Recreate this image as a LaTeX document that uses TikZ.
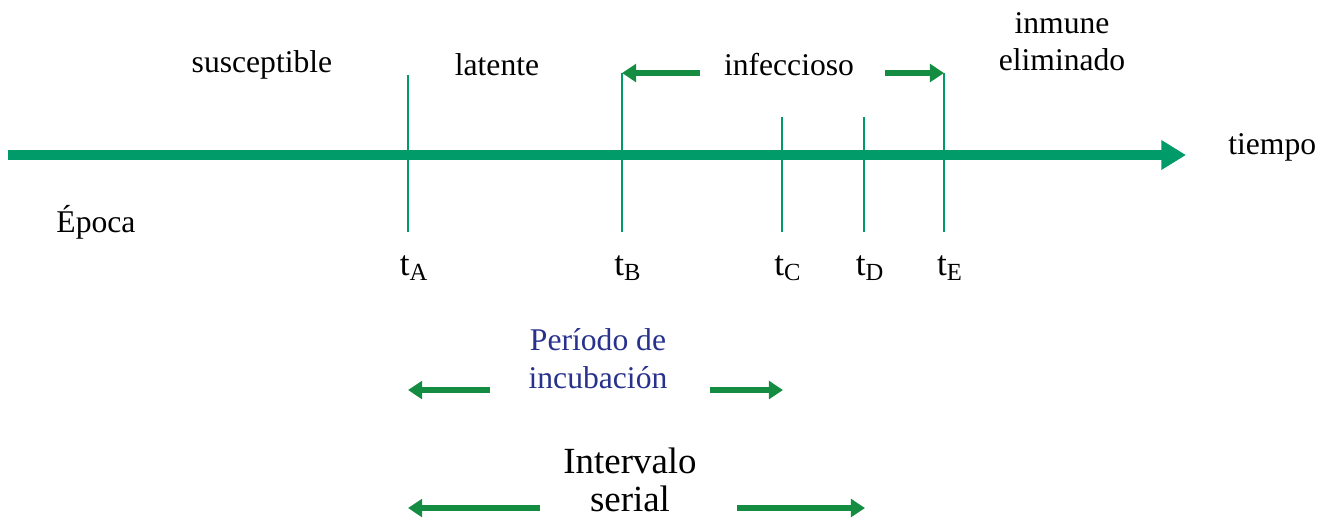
\documentclass[tikz,border=0pt]{standalone}
\usepackage{xcolor}
\usepackage{fontspec}
\setmainfont{Liberation Serif}
\usetikzlibrary{arrows.meta}

\definecolor{axisgreen}{RGB}{0,155,105}
\definecolor{arrowgreen}{RGB}{20,140,65}
\definecolor{textblue}{RGB}{40,50,140}

\begin{document}
\begin{tikzpicture}[
    x=0.02cm, y=-0.02cm,
    axis/.style={-{Triangle[length=14pt,width=16pt]}, line width=5.7pt, axisgreen},
    tick/.style={line width=1.1pt, axisgreen},
    span/.style={-{Triangle[length=8pt,width=10pt]}, line width=3.4pt, arrowgreen},
    label/.style={font=\fontsize{18}{21}\selectfont, inner sep=0pt, align=center},
    tlabel/.style={font=\fontsize{20}{22}\selectfont, inner sep=0pt}
]
\useasboundingbox (0,0) rectangle (1325,522);

% eje del tiempo
\coordinate (start) at (8,155);
\coordinate (end) at (1186,155);
\draw[axis] (start) -- (end);
\node[label, anchor=west] (tiempo) at (1228,147) {tiempo};
\node[label] (epoca) at (96,222) {Época};

% marcas
\coordinate (Atop) at (408,75);  \coordinate (Abot) at (408,232);
\coordinate (Btop) at (622,73);  \coordinate (Bbot) at (622,232);
\coordinate (Ctop) at (782,117); \coordinate (Cbot) at (782,232);
\coordinate (Dtop) at (864,117); \coordinate (Dbot) at (864,232);
\coordinate (Etop) at (944,73);  \coordinate (Ebot) at (944,232);
\draw[tick] (Atop) -- (Abot);
\draw[tick] (Btop) -- (Bbot);
\draw[tick] (Ctop) -- (Cbot);
\draw[tick] (Dtop) -- (Dbot);
\draw[tick] (Etop) -- (Ebot);

\node[tlabel] (tA) at (414,268) {t\textsubscript{A}};
\node[tlabel] (tB) at (628,268) {t\textsubscript{B}};
\node[tlabel] (tC) at (788,268) {t\textsubscript{C}};
\node[tlabel] (tD) at (870,268) {t\textsubscript{D}};
\node[tlabel] (tE) at (950,268) {t\textsubscript{E}};

% estados
\node[label] (susc) at (262,65) {susceptible};
\node[label] (lat) at (497,65) {latente};
\node[label] (inf) at (789,65) {infeccioso};
\node[label] (inm) at (1062,42) {inmune\\eliminado};

\coordinate (infL) at (700,73);
\coordinate (infR) at (885,73);
\draw[span] (infL) -- (Btop);
\draw[span] (infR) -- (Etop);

% periodo de incubacion
\node[label, textblue, font=\fontsize{18}{21.5}\selectfont] (incub) at (598,359) {Período de\\incubación};
\coordinate (incA) at (408,390); \coordinate (incL) at (490,390);
\coordinate (incC) at (783,390); \coordinate (incR) at (710,390);
\draw[span] (incL) -- (incA);
\draw[span] (incR) -- (incC);

% intervalo serial
\node[label, font=\fontsize{21}{22}\selectfont] (serial) at (630,480) {Intervalo\\serial};
\coordinate (serA) at (408,508); \coordinate (serL) at (540,508);
\coordinate (serD) at (865,508); \coordinate (serR) at (737,508);
\draw[span] (serL) -- (serA);
\draw[span] (serR) -- (serD);
\end{tikzpicture}
\end{document}
